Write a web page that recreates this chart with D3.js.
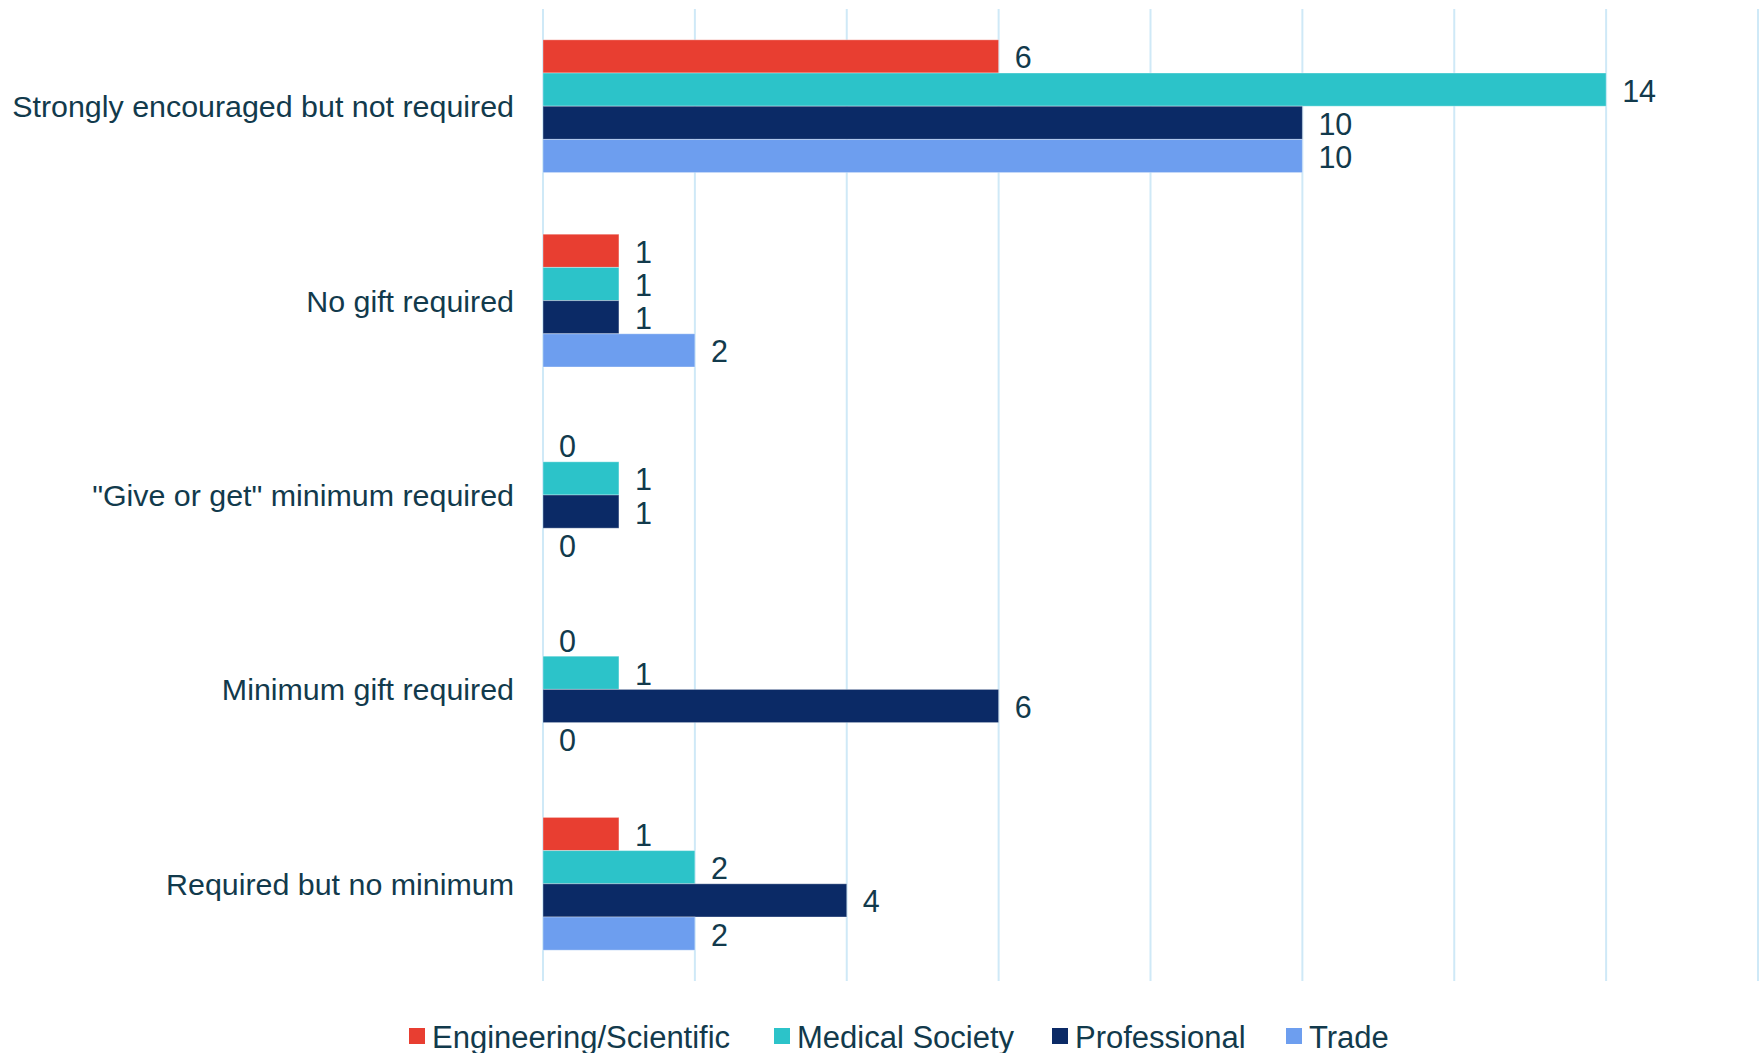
<!DOCTYPE html>
<html>
<head>
<meta charset="utf-8">
<script src="https://cdn.jsdelivr.net/npm/d3@7/dist/d3.min.js"></script>
<style>
  html, body { margin: 0; padding: 0; background: #ffffff; }
  svg { display: block; }
  text { font-family: "Liberation Sans", Arial, sans-serif; fill: #123a4c; }
</style>
</head>
<body>
<svg id="chart" width="1764" height="1053"></svg>
<script>
// Board giving policy by organization type (count of organizations)
const categories = [
  "Strongly encouraged but not required",
  "No gift required",
  "\"Give or get\" minimum required",
  "Minimum gift required",
  "Required but no minimum"
];
const seriesNames = ["Engineering/Scientific", "Medical Society", "Professional", "Trade"];
const engineering  = [6, 1, 0, 0, 1];
const medical      = [14, 1, 1, 1, 2];
const professional = [10, 1, 1, 6, 4];
const trade        = [10, 2, 0, 0, 2];
const seriesColors = ["#e83e31", "#2cc3c9", "#0b2a66", "#6d9eef"];
const gridTicks = [0, 2, 4, 6, 8, 10, 12, 14, 16];

const seriesValues = [engineering, medical, professional, trade];
const rows = categories.map((c, i) => ({
  category: c,
  values: seriesNames.map((s, j) => ({ series: s, value: seriesValues[j][i], color: seriesColors[j] }))
}));

const svg = d3.select("#chart");
const plot = { left: 543, right: 1758, top: 9, bottom: 981 };

const x = d3.scaleLinear().domain([0, 16]).range([plot.left, plot.right]);
const y = d3.scaleBand().domain(categories).range([plot.top, plot.bottom])
  .paddingInner(0.317).paddingOuter(0.1585);
const yInner = d3.scaleBand().domain(seriesNames).range([0, y.bandwidth()]);

// vertical gridlines
svg.append("g")
  .selectAll("line")
  .data(gridTicks)
  .join("line")
  .attr("x1", d => x(d)).attr("x2", d => x(d))
  .attr("y1", plot.top).attr("y2", plot.bottom)
  .attr("stroke", "#cfe9f7")
  .attr("stroke-width", 2);

// category labels
svg.append("g")
  .selectAll("text")
  .data(categories)
  .join("text")
  .attr("x", plot.left - 29)
  .attr("y", d => y(d) + y.bandwidth() / 2)
  .attr("text-anchor", "end")
  .attr("dominant-baseline", "central")
  .style("font-size", "30.4px")
  .text(d => d);

// bars
const groups = svg.append("g")
  .selectAll("g")
  .data(rows)
  .join("g")
  .attr("transform", d => `translate(0,${y(d.category)})`);

groups.selectAll("rect")
  .data(d => d.values)
  .join("rect")
  .attr("x", x(0))
  .attr("y", d => yInner(d.series))
  .attr("width", d => x(d.value) - x(0))
  .attr("height", yInner.bandwidth())
  .attr("fill", d => d.color)
  .attr("stroke", d => d.value > 0 ? "rgba(255,255,255,0.35)" : "none")
  .attr("stroke-width", 1);

// value labels
groups.selectAll("text")
  .data(d => d.values)
  .join("text")
  .attr("x", d => x(d.value) + 16)
  .attr("y", d => yInner(d.series) + yInner.bandwidth() / 2 + 1)
  .attr("dominant-baseline", "central")
  .style("font-size", "30.5px")
  .text(d => d.value);

// legend
const legendX = [409, 774, 1052, 1286];
const legend = svg.append("g")
  .selectAll("g")
  .data(seriesNames)
  .join("g")
  .attr("transform", (d, i) => `translate(${legendX[i]},1036)`);
legend.append("rect")
  .attr("x", 0).attr("y", -8)
  .attr("width", 16).attr("height", 16)
  .attr("fill", (d, i) => seriesColors[i]);
legend.append("text")
  .attr("x", 23).attr("y", 1)
  .attr("dominant-baseline", "central")
  .style("font-size", "31px")
  .text(d => d);
</script>
</body>
</html>
